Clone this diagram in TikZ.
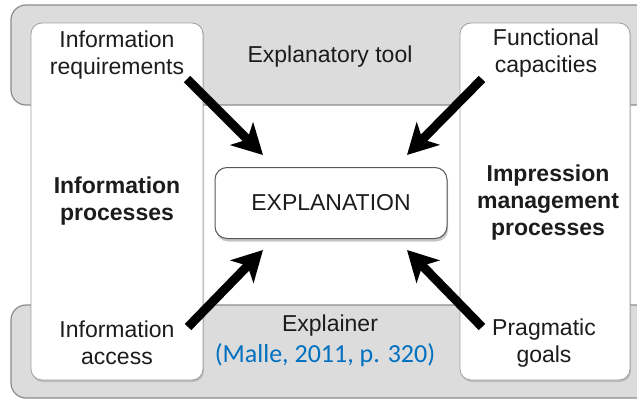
\documentclass[tikz,border=0pt]{standalone}
\usepackage{fontspec}
\setmainfont{Liberation Sans}
\newfontfamily\citefont{Carlito}
\usetikzlibrary{arrows.meta,shadows}
\definecolor{bandfill}{HTML}{DCDCDC}
\definecolor{bandline}{HTML}{8C8C8C}
\definecolor{boxline}{HTML}{A0A0A0}
\definecolor{inkdark}{HTML}{1C1C1C}
\definecolor{citeblue}{HTML}{0070C0}
\tikzset{
  band/.style={fill=bandfill, draw=bandline, line width=1.2pt, rounded corners=15pt},
  panel/.style={draw=boxline, fill=white, line width=0.8pt, rounded corners=11pt,
    drop shadow={shadow xshift=1pt, shadow yshift=-2pt, opacity=0.35}},
  core/.style={draw=black!65, fill=white, line width=1pt, rounded corners=12pt,
    drop shadow={shadow xshift=1pt, shadow yshift=-3pt, opacity=0.45}},
  label/.style={text=inkdark, align=center, font=\fontsize{23}{27}\selectfont, inner sep=0pt},
  boldlabel/.style={label, font=\fontsize{23}{27}\selectfont\bfseries},
  bigarrow/.style={draw=black, line width=9pt,
    -{Stealth[length=30pt, width=32pt, inset=8pt]}}
}
\begin{document}
\begin{tikzpicture}[x=1pt, y=-1pt]
  \useasboundingbox (0,0) rectangle (637,401);
  \clip (0,0) rectangle (637,401);
  % the two grey layers
  \draw[band] (11,5) rectangle (670,105);
  \draw[band] (11,305) rectangle (670,398);
  % side panels and the central box
  \node[panel, minimum width=172pt, minimum height=357pt] (leftpanel) at (117,201.5) {};
  \node[panel, minimum width=170pt, minimum height=357pt] (rightpanel) at (545,201.5) {};
  \node[core, minimum width=232pt, minimum height=71pt, label] (expl) at (331,203) {EXPLANATION};
  % texts
  \node[label] (ireq) at (117,55) {Information\\requirements};
  \node[label] (fcap) at (546,53) {Functional\\capacities};
  \node[label] (tool) at (330,57) {Explanatory tool};
  \node[boldlabel] (iproc) at (117,201) {Information\\processes};
  \node[boldlabel] (imp) at (548,203) {Impression\\management\\processes};
  \node[label] (iacc) at (117,343) {Information\\access};
  \node[label] (pgoal) at (544,343) {Pragmatic\\goals};
  \node[label] (explainer) at (330,326) {Explainer};
  \node[text=citeblue, inner sep=0pt, font=\citefont\fontsize{26}{30}\selectfont] (cite) at (325,355) {(Malle, 2011, p. 320)};
  % arrow ends
  \coordinate (a1s) at (187,79);  \coordinate (a1e) at (263,155);
  \coordinate (a2s) at (482,79);  \coordinate (a2e) at (407,155);
  \coordinate (a3s) at (188,327); \coordinate (a3e) at (263,250);
  \coordinate (a4s) at (482,327); \coordinate (a4e) at (407,250);
  \draw[bigarrow] (a1s) -- (a1e);
  \draw[bigarrow] (a2s) -- (a2e);
  \draw[bigarrow] (a3s) -- (a3e);
  \draw[bigarrow] (a4s) -- (a4e);
\end{tikzpicture}
\end{document}
